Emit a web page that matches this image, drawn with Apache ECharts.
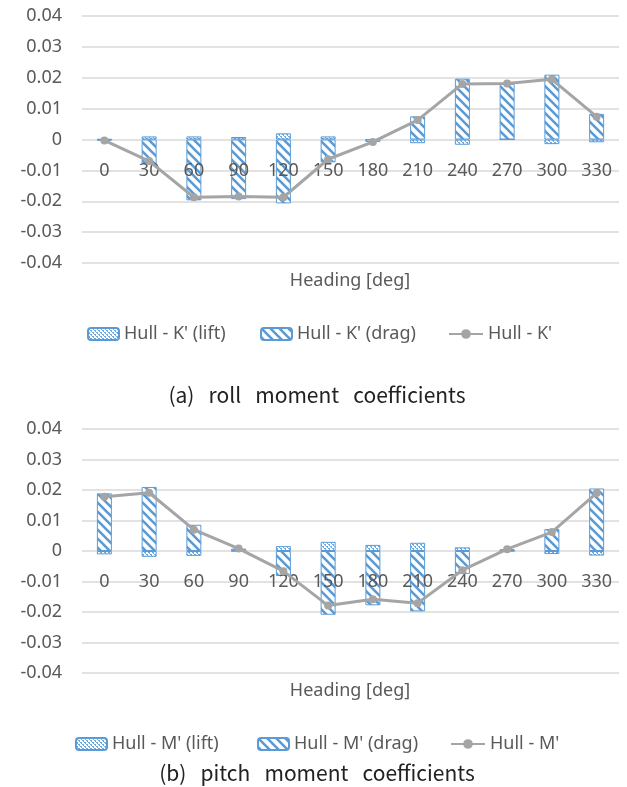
<!DOCTYPE html>
<html>
<head>
<meta charset="utf-8">
<script src="https://cdn.jsdelivr.net/npm/echarts@6/dist/echarts.min.js"></script>
<style>
  html, body { margin: 0; padding: 0; background: #fff; }
  #main { width: 627px; height: 787px; }
</style>
</head>
<body>
<div id="main"></div>
<script>
// headings (x axis categories)
var headings = ['0', '30', '60', '90', '120', '150', '180', '210', '240', '270', '300', '330'];

// (a) roll moment coefficients
var rollLift  = [0.0001, 0.001, 0.001, 0.0008, 0.002, 0.001, 0, -0.0012, -0.0017, 0, -0.0015, -0.0009];
var rollDrag  = [-0.0004, -0.008, -0.0197, -0.0193, -0.0207, -0.0074, -0.0008, 0.0075, 0.0197, 0.018, 0.021, 0.0083];
var rollTotal = [-0.0003, -0.007, -0.0187, -0.0185, -0.0187, -0.0064, -0.0008, 0.0063, 0.018, 0.0181, 0.0195, 0.0074];

// (b) pitch moment coefficients
var pitchLift  = [-0.0011, -0.0019, -0.0016, 0, 0.0016, 0.003, 0.002, 0.0027, 0.0012, 0, -0.001, -0.0015];
var pitchDrag  = [0.0189, 0.021, 0.0086, 0.0008, -0.0082, -0.0209, -0.0178, -0.0198, -0.0075, 0.0006, 0.0072, 0.0205];
var pitchTotal = [0.0178, 0.0191, 0.007, 0.0008, -0.0066, -0.0179, -0.0158, -0.0171, -0.0063, 0.0006, 0.0062, 0.019];

var BLUE = '#5B9BD5';
var GREY = '#A5A5A5';
var TXT = '#595959';
var FONT = 'Noto Sans';

// 斜线填充 (drag)
function hatchPattern() {
	var c = document.createElement('canvas');
	c.width = 9; c.height = 9;
	var ctx = c.getContext('2d');
	ctx.fillStyle = '#fff';
	ctx.fillRect(0, 0, 9, 9);
	ctx.strokeStyle = BLUE;
	ctx.lineWidth = 2.6;
	ctx.beginPath();
	ctx.moveTo(-2, -2); ctx.lineTo(11, 11);
	ctx.moveTo(-11, -2); ctx.lineTo(2, 11);
	ctx.moveTo(7, -2); ctx.lineTo(20, 11);
	ctx.stroke();
	return c;
}
// 点状填充 (lift)
function dotPattern() {
	var c = document.createElement('canvas');
	c.width = 4; c.height = 4;
	var ctx = c.getContext('2d');
	ctx.fillStyle = '#fff';
	ctx.fillRect(0, 0, 4, 4);
	ctx.fillStyle = '#6FA8DC';
	ctx.fillRect(0, 0, 2, 1);
	ctx.fillRect(2, 2, 2, 1);
	ctx.fillRect(1, 1, 1, 1);
	ctx.fillRect(3, 3, 1, 1);
	return c;
}
var hatch = { image: hatchPattern(), repeat: 'repeat' };
var dots = { image: dotPattern(), repeat: 'repeat' };

var grids = [
	{ left: 82, right: 8, top: 16, height: 247 },
	{ left: 82, right: 8, top: 429, height: 244 }
];

function yAxisFor(idx) {
	return {
		type: 'value', gridIndex: idx,
		min: -0.04, max: 0.04, interval: 0.01,
		axisLine: { show: false }, axisTick: { show: false },
		splitLine: { lineStyle: { color: '#D9D9D9', width: 1.5 } },
		axisLabel: {
			color: TXT, fontFamily: FONT, fontSize: 18, margin: 20,
			formatter: function (v) { return Math.abs(v) < 1e-9 ? '0' : v.toFixed(2); }
		}
	};
}
// 分类轴放在 0 的位置 (y 范围对称, 所以向上移半个网格高度)
function xAxisFor(idx) {
	return {
		type: 'category', gridIndex: idx, data: headings, z: 3,
		position: 'bottom', offset: -grids[idx].height / 2,
		axisLine: { show: false, onZero: false },
		axisTick: { show: false },
		axisLabel: { color: TXT, fontFamily: FONT, fontSize: 18, margin: 22, interval: 0 }
	};
}
function barSeries(name, idx, data, fill, stack) {
	return {
		name: name, type: 'bar', xAxisIndex: idx, yAxisIndex: idx, stack: stack,
		barWidth: 15, data: data,
		itemStyle: { color: fill, borderColor: BLUE, borderWidth: 1 }
	};
}
function lineSeries(name, idx, data) {
	return {
		name: name, type: 'line', xAxisIndex: idx, yAxisIndex: idx, z: 4,
		data: data, symbol: 'circle', symbolSize: 8,
		itemStyle: { color: GREY }, lineStyle: { color: GREY, width: 3 }
	};
}
function legendItem(name, left, top, w) {
	return {
		left: left, top: top, itemWidth: w, itemHeight: 12,
		data: [name],
		textStyle: { color: TXT, fontFamily: FONT, fontSize: 18 }
	};
}
function label(text, x, y, size, color, family) {
	return {
		type: 'text', x: x, y: y,
		style: { text: text, fill: color, font: size + 'px "' + family + '"', textAlign: 'center', textVerticalAlign: 'middle' }
	};
}

var kNames = ["Hull - K' (lift)", "Hull - K' (drag)", "Hull - K'"];
var mNames = ["Hull - M' (lift)", "Hull - M' (drag)", "Hull - M'"];

var myChart = echarts.init(document.getElementById('main'));
var option = {
	animation: false,
	grid: grids,
	xAxis: [xAxisFor(0), xAxisFor(1)],
	yAxis: [yAxisFor(0), yAxisFor(1)],
	legend: [
		legendItem(kNames[0], 82, 320, 31),
		legendItem(kNames[1], 255, 320, 31),
		legendItem(kNames[2], 443, 320, 34),
		legendItem(mNames[0], 70, 730, 31),
		legendItem(mNames[1], 252, 730, 31),
		legendItem(mNames[2], 445, 730, 34)
	],
	graphic: [
		label('Heading [deg]', 350, 281, 18, TXT, FONT),
		label('(a)   roll   moment   coefficients', 317, 395, 21, '#222', 'Noto Sans CJK KR'),
		label('Heading [deg]', 350, 691, 18, TXT, FONT),
		label('(b)   pitch   moment   coefficients', 317, 773, 21, '#222', 'Noto Sans CJK KR')
	],
	series: [
		barSeries(kNames[0], 0, rollLift, dots, 'k'),
		barSeries(kNames[1], 0, rollDrag, hatch, 'k'),
		lineSeries(kNames[2], 0, rollTotal),
		barSeries(mNames[0], 1, pitchLift, dots, 'm'),
		barSeries(mNames[1], 1, pitchDrag, hatch, 'm'),
		lineSeries(mNames[2], 1, pitchTotal)
	]
};
myChart.setOption(option);
</script>
</body>
</html>
